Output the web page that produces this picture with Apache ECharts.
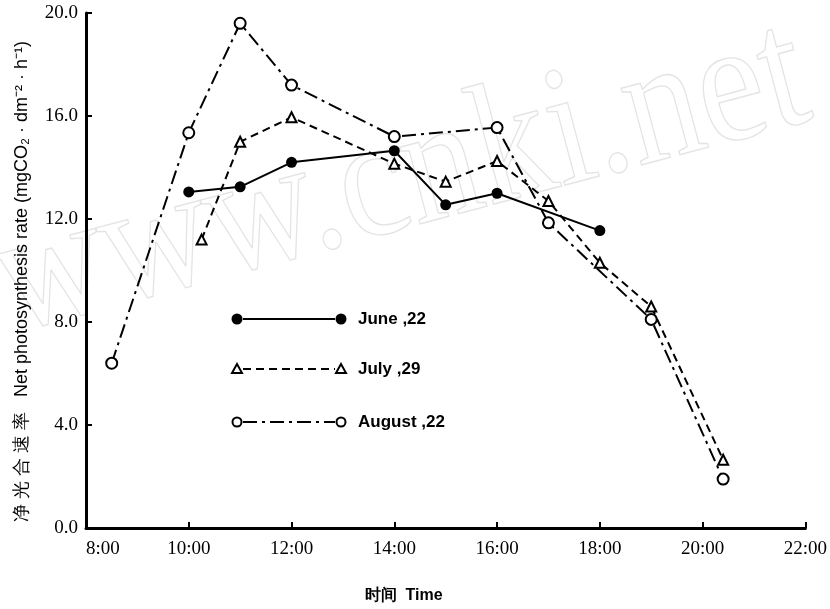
<!DOCTYPE html>
<html>
<head>
<meta charset="utf-8">
<script src="https://cdn.jsdelivr.net/npm/echarts@6/dist/echarts.min.js"></script>
<style>html,body{margin:0;padding:0;background:#fff;}#c{width:830px;height:609px;}</style>
</head>
<body>
<div id="c"></div>
<script>
// Hours of day (decimal) and net photosynthesis rate
const juneTimes   = [10, 11, 12, 14, 15, 16, 18];
const juneValues  = [13.05, 13.25, 14.2, 14.65, 12.55, 13.0, 11.55];
const julyTimes   = [10.25, 11, 12, 14, 15, 16, 17, 18, 19, 20.4];
const julyValues  = [11.2, 15.0, 15.95, 14.15, 13.45, 14.25, 12.7, 10.3, 8.6, 2.65];
const augTimes    = [8.5, 10, 11, 12, 14, 16, 17, 19, 20.4];
const augValues   = [6.4, 15.35, 19.6, 17.2, 15.2, 15.55, 11.85, 8.1, 1.9];
const seriesNames = ['June ,22', 'July ,29', 'August ,22'];
const xTicks = [8, 10, 12, 14, 16, 18, 20, 22];
const yTicks = [0, 4, 8, 12, 16, 20];

const pair = (xs, ys) => xs.map((x, i) => [x, ys[i]]);

const chart = echarts.init(document.getElementById('c'), null, {renderer: 'canvas'});
const serif = 'Liberation Serif';
const sans = 'Liberation Sans, Arial, sans-serif';

const legendRows = [
  {y: 319, symbol: 'dot', dash: null},
  {y: 369, symbol: 'tri', dash: [8, 5]},
  {y: 422, symbol: 'ring', dash: [14, 5, 3, 5]}
];
const graphics = [];
// watermark
graphics.push({
  type: 'text', x: 22, y: 372, rotation: 0.26, scaleY: 1.15, z: -10, silent: true,
  style: {text: 'www.cnki.net', font: '150px "Liberation Serif"', fill: 'rgba(0,0,0,0)', stroke: '#e4e4e4', lineWidth: 1.2, textVerticalAlign: 'bottom'}
});
legendRows.forEach((r, i) => {
  graphics.push({type: 'line', shape: {x1: 243, y1: r.y, x2: 335, y2: r.y},
    style: {stroke: '#000', lineWidth: 2, lineDash: r.dash}});
  [237, 341].forEach(cx => {
    if (r.symbol === 'dot') graphics.push({type: 'circle', shape: {cx, cy: r.y, r: 5.5}, style: {fill: '#000'}});
    else if (r.symbol === 'ring') graphics.push({type: 'circle', shape: {cx, cy: r.y, r: 4.5}, style: {fill: '#fff', stroke: '#000', lineWidth: 2}});
    else graphics.push({type: 'polygon', shape: {points: [[cx, r.y - 5], [cx - 5, r.y + 4], [cx + 5, r.y + 4]]}, style: {fill: '#fff', stroke: '#000', lineWidth: 2}});
  });
  graphics.push({type: 'text', x: 358, y: r.y, style: {text: seriesNames[i], font: 'bold 17px ' + sans, fill: '#000', textVerticalAlign: 'middle'}});
});

chart.setOption({
  animation: false,
  backgroundColor: '#fff',
  grid: {left: 86, right: 15, top: 13, bottom: 80, containLabel: false},
  xAxis: {
    type: 'value', min: 8, max: 22, interval: 2,
    name: '时间  Time', nameLocation: 'middle', nameGap: 60,
    nameTextStyle: {fontFamily: sans, fontWeight: 'bold', fontSize: 16, color: '#000', padding: [0, 84, 0, 0]},
    axisLine: {lineStyle: {color: '#000', width: 3}},
    axisTick: {inside: true, length: 6, lineStyle: {color: '#000', width: 2}},
    axisLabel: {formatter: v => v + ':00', fontFamily: serif, fontSize: 19, color: '#000', margin: 12, alignMinLabel: 'left'},
    splitLine: {show: false}
  },
  yAxis: {
    type: 'value', min: 0, max: 20, interval: 4,
    name: '净 光 合 速 率   Net photosynthesis rate (mgCO₂ · dm⁻² · h⁻¹)', nameLocation: 'middle', nameGap: 55,
    nameTextStyle: {fontFamily: sans, fontSize: 18, color: '#000', padding: [0, 22, 0, 0]},
    axisLine: {lineStyle: {color: '#000', width: 3}},
    axisTick: {inside: true, length: 6, lineStyle: {color: '#000', width: 2}},
    axisLabel: {formatter: v => v.toFixed(1), fontFamily: serif, fontSize: 19, color: '#000', margin: 8},
    splitLine: {show: false}
  },
  series: [
    {name: seriesNames[0], type: 'line', data: pair(juneTimes, juneValues), symbol: 'circle', symbolSize: 11,
      itemStyle: {color: '#000'}, lineStyle: {color: '#000', width: 2}},
    {name: seriesNames[1], type: 'line', data: pair(julyTimes, julyValues), symbol: 'triangle', symbolSize: 10,
      itemStyle: {color: '#fff', borderColor: '#000', borderWidth: 2}, lineStyle: {color: '#000', width: 2, type: [8, 5]}},
    {name: seriesNames[2], type: 'line', data: pair(augTimes, augValues), symbol: 'circle', symbolSize: 11,
      itemStyle: {color: '#fff', borderColor: '#000', borderWidth: 2}, lineStyle: {color: '#000', width: 2, type: [14, 5, 3, 5]}}
  ],
  graphic: graphics
});
</script>
</body>
</html>
